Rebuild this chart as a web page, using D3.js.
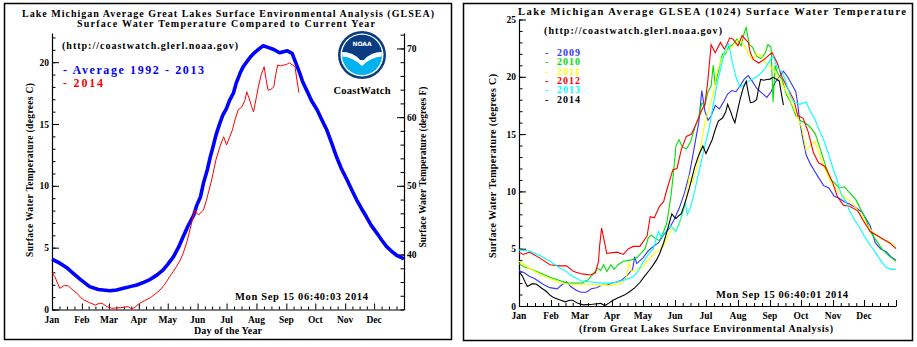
<!DOCTYPE html>
<html>
<head>
<meta charset="utf-8">
<script src="https://cdn.jsdelivr.net/npm/d3@7"></script>
<style>
  body { margin: 0; background: #fff; }
  text { font-family: "Liberation Serif", "DejaVu Serif", serif; font-weight: bold; fill: #000; }
</style>
</head>
<body>
<div id="chart"></div>
<script>
// month labels and the day-of-year each month starts on
var months = ["Jan","Feb","Mar","Apr","May","Jun","Jul","Aug","Sep","Oct","Nov","Dec"];
var monthStart = [0,31,59,90,120,151,181,212,243,273,304,334];

var ticksC = [0,5,10,15,20];
var ticksF = [40,50,60,70];
var ticksRight = [0,5,10,15,20,25];

// [day of year, degrees C]
var avg1992_2013 = [
  [0,4.08],[8,3.75],[15,3.4],[22,2.93],[30,2.4],[39,1.85],[48,1.62],[60,1.52],[67,1.58],[74,1.71],
  [81,1.85],[88,1.98],[95,2.2],[102,2.44],[109,2.8],[115,3.19],[120,3.65],[126,4.27],[131,5.0],
  [136,5.89],[141,6.75],[147,7.64],[150,8.4],[154,9.12],[157,10.2],[161,11.28],[164,12.3],
  [167,13.16],[170,14.1],[174,15.05],[177,15.7],[181,16.26],[184,16.9],[188,17.47],[191,18.3],
  [195,19.1],[198,19.6],[202,20.03],[206,20.45],[211,20.84],[215,21.1],[219,21.33],[224,21.2],
  [230,21.03],[236,20.76],[240,20.85],[244,20.92],[249,20.71],[253,19.9],[257,19.1],[260,18.4],
  [264,17.74],[269,16.9],[275,16.13],[280,15.3],[285,14.51],[290,13.45],[295,12.35],[300,11.4],
  [306,10.47],[311,9.65],[316,8.85],[321,8.15],[326,7.5],[331,6.8],[337,6.16],[342,5.6],
  [347,5.08],[353,4.65],[358,4.35],[365,4.1]
];

var y2014 = [
  [0,2.98],[3,2.65],[8,1.71],[13,1.95],[17,1.9],[22,1.55],[26,1.31],[30,0.95],[33,0.77],[39,0.55],
  [45,0.36],[49,0.5],[52,0.5],[57,0.23],[62,0.1],[66,0.12],[71,0.15],[76,0.2],[79,0.23],[83,0.04],
  [87,0.25],[91,0.5],[96,0.72],[102,0.95],[107,1.25],[112,1.58],[117,2.05],[122,2.65],[126,3.1],
  [129,3.46],[133,4.0],[136,4.54],[140,5.5],[143,6.43],[146,7.4],[148,8.04],[150,7.8],[152,7.64],
  [155,7.9],[157,8.04],[160,8.8],[162,9.39],[165,10.3],[167,11.0],[170,12.1],[174,13.16],[178,13.97],
  [181,13.3],[184,13.9],[187,14.51],[190,15.4],[193,16.13],[197,16.4],[200,16.9],[202,17.6],
  [205,16.94],[207,16.4],[209,15.99],[212,17.2],[214,18.01],[217,19.0],[220,19.63],[222,18.6],
  [224,17.74],[227,17.8],[230,18.0],[232,19.0],[234,19.77],[237,19.7],[240,19.77],[243,19.8],
  [246,19.95],[249,19.8],[252,19.63],[254,18.55],[256,17.53]
];

var y2009 = [
  [0,3.1],[5,2.9],[10,2.6],[15,2.4],[20,2.1],[25,1.8],[30,1.6],[37,1.5],[42,1.9],[46,2.1],[50,1.7],
  [55,1.4],[60,1.2],[65,1.2],[70,1.5],[75,1.6],[80,1.8],[85,1.8],[90,2.0],[95,2.1],[100,2.3],
  [105,2.7],[110,3.2],[112,4.3],[114,3.7],[120,4.2],[125,4.8],[130,5.2],[135,5.5],[140,6.2],
  [145,6.7],[150,7.5],[155,8.5],[160,9.8],[165,11.5],[170,14.0],[174,16.0],[177,18.8],[180,17.0],
  [183,16.2],[186,16.6],[190,17.5],[194,17.2],[198,17.8],[202,18.5],[206,18.8],[210,18.7],
  [214,19.2],[218,19.8],[222,20.1],[226,19.6],[230,19.0],[235,18.6],[240,18.2],[244,18.7],
  [248,19.5],[252,20.0],[256,20.5],[260,20.0],[265,19.2],[268,18.7],[270,17.5],[272,16.0],
  [275,14.5],[278,13.2],[282,12.4],[286,11.8],[290,11.2],[295,10.5],[300,10.3],[305,9.6],
  [310,9.4],[315,9.1],[320,8.9],[326,8.6],[332,8.2],[336,7.6],[340,7.0],[345,5.5],[350,5.0],
  [356,4.7],[360,4.3],[365,4.0]
];

var y2010 = [
  [0,3.7],[5,3.4],[10,3.3],[15,3.1],[20,2.9],[30,2.5],[40,2.2],[46,2.0],[55,2.0],[61,2.0],
  [67,2.3],[72,2.8],[76,3.3],[79,3.1],[82,3.6],[85,3.0],[89,3.6],[92,3.2],[96,3.6],[101,3.9],
  [108,4.0],[114,4.2],[118,4.6],[122,5.0],[125,5.9],[128,6.2],[132,5.9],[136,5.7],[140,6.5],
  [143,7.2],[147,9.5],[150,12.0],[152,14.0],[155,14.5],[158,13.9],[162,13.7],[166,14.3],
  [170,15.5],[174,16.5],[177,17.7],[180,17.5],[183,18.7],[186,19.2],[188,21.0],[190,19.3],
  [193,20.5],[197,22.0],[200,22.0],[203,22.6],[207,22.8],[211,23.3],[215,22.7],[218,23.8],
  [220,24.3],[223,22.8],[226,22.6],[230,21.8],[234,21.6],[238,22.0],[241,22.8],[244,22.6],
  [246,17.8],[248,21.0],[250,20.4],[255,19.7],[259,18.4],[263,17.8],[268,16.6],[272,16.2],
  [277,16.0],[282,15.6],[287,15.0],[292,13.6],[297,12.2],[302,11.0],[306,10.7],[310,10.3],
  [315,10.4],[320,9.9],[326,9.3],[330,8.6],[336,7.5],[340,6.5],[346,5.7],[352,4.9],[358,4.4],
  [365,3.9]
];

var y2011 = [
  [0,3.9],[10,3.3],[20,2.8],[30,2.4],[40,2.0],[50,1.9],[60,1.9],[70,1.9],[80,1.8],[90,1.8],
  [100,2.0],[104,2.5],[106,3.7],[109,3.0],[115,3.2],[120,3.4],[125,4.0],[130,4.5],[135,4.9],
  [140,5.2],[145,6.3],[148,6.8],[150,6.6],[155,7.0],[160,8.5],[163,10.0],[165,11.3],[168,10.8],
  [172,12.0],[176,14.0],[180,16.0],[184,17.2],[188,18.5],[192,20.5],[196,21.5],[200,22.2],
  [205,22.5],[210,23.0],[214,23.3],[218,22.8],[222,22.0],[226,21.5],[230,22.0],[234,21.9],
  [238,21.3],[242,20.9],[246,20.7],[250,20.0],[255,19.3],[260,18.5],[265,17.5],[270,16.4],
  [274,15.5],[278,13.6],[282,14.0],[286,14.4],[290,13.5],[294,12.5],[298,11.6],[302,10.8],
  [308,10.1],[314,9.6],[320,9.2],[326,8.6],[332,7.8],[338,6.9],[345,6.2],[352,5.8],[358,5.6],
  [365,5.1]
];

var y2012 = [
  [0,4.7],[4,4.5],[10,4.7],[20,4.2],[30,3.6],[40,3.5],[46,3.5],[53,3.0],[61,2.8],[69,2.7],
  [74,2.9],[77,3.9],[78,5.2],[80,6.8],[82,5.9],[85,4.6],[95,4.7],[101,4.5],[106,5.0],[111,5.2],
  [117,5.2],[124,6.1],[127,7.8],[131,7.7],[136,8.7],[140,9.1],[143,10.1],[149,11.9],[153,12.0],
  [157,13.6],[162,14.8],[167,15.0],[172,16.0],[177,17.1],[180,17.6],[183,19.8],[186,22.8],
  [190,22.1],[195,23.0],[199,22.4],[204,23.4],[207,23.3],[212,22.7],[216,23.6],[222,23.0],
  [224,22.1],[227,21.5],[232,21.2],[237,21.5],[241,21.8],[245,22.1],[250,21.2],[254,20.1],
  [259,19.2],[266,18.0],[270,16.6],[275,16.4],[280,15.2],[285,13.4],[290,12.5],[296,12.2],
  [301,11.3],[304,10.7],[308,9.6],[314,8.8],[320,8.7],[328,8.3],[333,7.5],[340,6.5],[346,6.2],
  [353,5.8],[359,5.5],[365,5.0]
];

var y2013 = [
  [0,4.9],[10,4.8],[20,4.4],[30,3.9],[40,3.3],[46,3.0],[52,2.6],[60,2.2],[70,2.1],[80,2.0],
  [90,2.0],[100,2.2],[110,2.5],[115,3.0],[120,3.8],[126,4.6],[130,5.0],[135,6.5],[138,6.0],
  [142,6.5],[147,7.0],[152,6.5],[155,7.2],[158,8.0],[161,9.0],[163,8.0],[166,8.6],[170,10.0],
  [175,12.0],[180,14.0],[184,15.5],[188,17.5],[192,19.5],[196,21.0],[200,22.5],[203,22.9],
  [206,21.5],[210,20.0],[214,19.1],[218,19.3],[222,19.6],[226,19.8],[230,20.0],[234,20.3],
  [238,20.7],[242,21.3],[246,21.8],[250,20.8],[254,20.5],[258,19.7],[262,18.5],[266,17.8],
  [272,17.6],[278,17.8],[282,17.0],[286,16.4],[290,15.5],[295,14.5],[300,13.2],[304,12.0],
  [308,11.0],[312,9.7],[316,9.2],[320,8.3],[325,7.5],[330,6.8],[335,6.0],[340,5.3],[345,4.7],
  [350,4.0],[355,3.4],[360,3.2],[365,3.2]
];

var years = ["2009","2010","2011","2012","2013","2014"];
var yearData = [y2009, y2010, y2011, y2012, y2013, y2014];
var yearColors = ["#3333ff","#00e000","#ffff00","#ff0000","#00ffff","#000000"];

var width = 917, height = 347;

var svg = d3.select("#chart").append("svg")
  .attr("width", width)
  .attr("height", height);

function txt(g, x, y, s, size, len, anchor) {
  var t = g.append("text")
    .attr("x", x).attr("y", y)
    .attr("text-anchor", anchor || "start")
    .style("font-size", size + "px")
    .text(s);
  if (len) t.attr("textLength", len).attr("lengthAdjust", "spacing");
  return t;
}

// quarter-month minor ticks along the day axis
var minorDays = [];
monthStart.forEach(function(m, i) {
  var next = i < 11 ? monthStart[i + 1] : 365;
  for (var k = 1; k < 4; k++) minorDays.push(m + (next - m) * k / 4);
});

function dayAxis(g, x, y0) {
  g.append("g")
    .attr("transform", `translate(0,${y0})`)
    .call(d3.axisBottom(x).tickValues(monthStart.concat([365])).tickSizeInner(-6).tickSizeOuter(0).tickFormat(""))
    .call(a => a.select(".domain").attr("stroke-width", 1.2));
  g.append("g")
    .attr("transform", `translate(0,${y0})`)
    .call(d3.axisBottom(x).tickValues(minorDays).tickSize(-3).tickFormat(""))
    .call(a => a.select(".domain").remove());
  g.selectAll(".month")
    .data(months)
    .enter().append("text")
    .attr("class", "month")
    .attr("x", (d, i) => x(monthStart[i]))
    .attr("y", y0 + 13)
    .attr("text-anchor", "middle")
    .style("font-size", "9.5px")
    .text(d => d);
}

function valueAxis(g, y, x0, major, minorStep, left) {
  var dom = y.domain();
  var minors = d3.range(Math.ceil(dom[0] / minorStep) * minorStep, dom[1] + 0.001, minorStep);
  var ax = left ? d3.axisLeft(y) : d3.axisRight(y);
  g.append("g")
    .attr("transform", `translate(${x0},0)`)
    .call(ax.tickValues(major).tickSizeInner(-7).tickSizeOuter(0).tickPadding(3))
    .call(a => a.select(".domain").attr("stroke-width", 1.2))
    .call(a => a.selectAll("text").style("font-size", "9.5px").style("font-family", "\"Liberation Serif\", serif").style("font-weight", "bold"));
  var ax2 = left ? d3.axisLeft(y) : d3.axisRight(y);
  g.append("g")
    .attr("transform", `translate(${x0},0)`)
    .call(ax2.tickValues(minors).tickSize(-3.5).tickFormat(""))
    .call(a => a.select(".domain").remove());
}

/* ---------- left panel: average vs current year ---------- */
svg.append("rect").attr("x", 4.5).attr("y", 3.5).attr("width", 447).attr("height", 336)
  .attr("fill", "none").attr("stroke", "#000").attr("stroke-width", 1.5);

var L = svg.append("g");
var xL = d3.scaleLinear().domain([0, 365]).range([52, 404]);
var yL = d3.scaleLinear().domain([0, 22.36]).range([309.5, 33]);
var yF = d3.scaleLinear().domain([32, 32 + 22.36 * 1.8]).range([309.5, 33]);

dayAxis(L, xL, 309.5);
valueAxis(L, yL, 52, ticksC, 1, true);
valueAxis(L, yF, 404, ticksF, 2, false);

var lineL = d3.line().x(d => xL(d[0])).y(d => yL(d[1]));
L.append("path").datum(avg1992_2013).attr("d", lineL)
  .attr("fill", "none").attr("stroke", "#0000ff").attr("stroke-width", 3.6).attr("stroke-linejoin", "round");
L.append("path").datum(y2014).attr("d", lineL)
  .attr("fill", "none").attr("stroke", "#ff0000").attr("stroke-width", 1);

txt(L, 228, 16.5, "Lake Michigan Average Great Lakes Surface Environmental Analysis (GLSEA)", 10, 412, "middle");
txt(L, 226, 26.5, "Surface Water Temperature Compared to Current Year", 10, 298, "middle");
txt(L, 62, 49, "(http://coastwatch.glerl.noaa.gov)", 10, 176);
txt(L, 63, 74, "- Average 1992 - 2013", 12, 141).style("fill", "#0000ff");
txt(L, 63, 87, "- 2014", 12, 40).style("fill", "#ff0000");
txt(L, 235, 300, "Mon Sep 15 06:40:03 2014", 10.5, 133);
txt(L, 228, 334, "Day of the Year", 10, 68, "middle");
txt(L, 0, 0, "Surface Water Temperature (degrees C)", 9.5, 174, "middle")
  .attr("transform", "translate(33,170) rotate(-90)");
txt(L, 0, 0, "Surface Water Temperature (degrees F)", 9.5, 161, "middle")
  .attr("transform", "translate(426,167) rotate(-90)");

// CoastWatch / NOAA emblem
var logo = L.append("g").attr("transform", "translate(362,55)");
logo.append("circle").attr("r", 24).attr("fill", "#0b3c83");
logo.append("circle").attr("r", 21.5).attr("fill", "#fff");
logo.append("circle").attr("r", 20).attr("fill", "#00b2ee");
logo.append("path")
  .attr("d", "M-19.8,-3 A20,20 0 0 1 19.8,-3 Q9,-3 2,5 L-2,5 Q-9,-3 -19.8,-3 Z")
  .attr("fill", "#0b3c83");
logo.append("path")
  .attr("d", "M-19.8,-3 Q-9,-3 -2,5 L2,5 Q9,-3 19.8,-3 L19.6,1.5 Q9,2 0,11 Q-9,2 -19.6,1.5 Z")
  .attr("fill", "#fff");
logo.append("text").attr("y", -9).attr("text-anchor", "middle")
  .style("font-size", "6px").style("fill", "#fff").style("font-family", "\"DejaVu Sans\", sans-serif")
  .text("NOAA");
txt(L, 362, 94, "CoastWatch", 10.5, 57, "middle");

/* ---------- right panel: individual years ---------- */
svg.append("rect").attr("x", 463.5).attr("y", 3.5).attr("width", 449).attr("height", 337)
  .attr("fill", "none").attr("stroke", "#000").attr("stroke-width", 1.5);

var R = svg.append("g");
var xR = d3.scaleLinear().domain([0, 365]).range([519, 896]);
var yR = d3.scaleLinear().domain([0, 25]).range([306, 19.5]);

dayAxis(R, xR, 306);
valueAxis(R, yR, 519, ticksRight, 1, true);

var lineR = d3.line().x(d => xR(d[0])).y(d => yR(d[1]));
R.selectAll(".year")
  .data(yearData)
  .enter().append("path")
  .attr("class", "year")
  .attr("d", lineR)
  .attr("fill", "none")
  .attr("stroke", (d, i) => yearColors[i])
  .attr("stroke-width", 1.1);

// legend
var leg = R.selectAll(".leg")
  .data(years)
  .enter().append("g")
  .attr("class", "leg")
  .attr("transform", (d, i) => `translate(545,${56 + i * 9.3})`);
leg.append("text").attr("x", 0).style("font-size", "10px")
  .style("fill", (d, i) => yearColors[i]).text("-");
leg.append("text").attr("x", 12).style("font-size", "10px")
  .attr("textLength", 23).attr("lengthAdjust", "spacing")
  .style("fill", (d, i) => yearColors[i]).text(d => d);

txt(R, 712, 15, "Lake Michigan Average GLSEA (1024) Surface Water Temperature", 10.5, 388, "middle");
txt(R, 544, 34, "(http://coastwatch.glerl.noaa.gov)", 10, 178);
txt(R, 716, 298, "Mon Sep 15 06:40:01 2014", 10.5, 132);
txt(R, 706, 332, "(from Great Lakes Surface Environmental Analysis)", 10, 254, "middle");
txt(R, 0, 0, "Surface Water Temperature (degrees C)", 10, 184, "middle")
  .attr("transform", "translate(496,166) rotate(-90)");
</script>
</body>
</html>
